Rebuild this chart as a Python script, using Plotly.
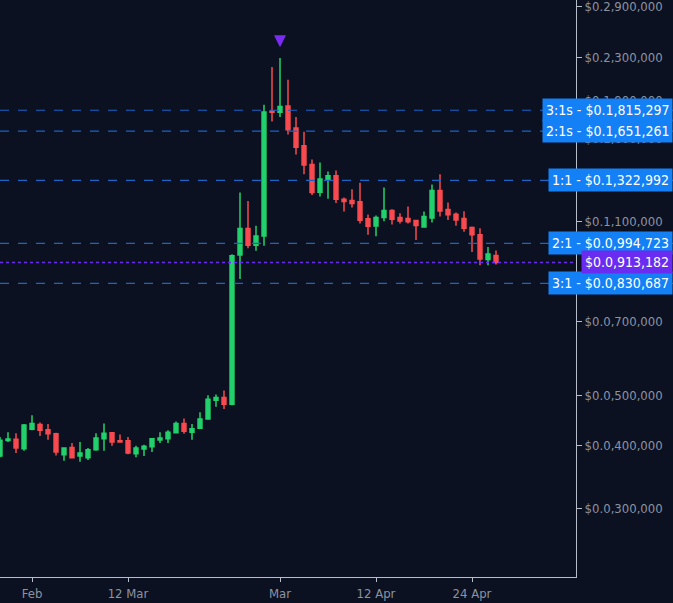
import math
import plotly.graph_objects as go

BG = "#0b1120"
UP = "#22d16b"
DOWN = "#f84a4f"
TICK_COLOR = "#8b93a3"
FONT = "Liberation Sans Narrow, DejaVu Sans Condensed, sans-serif"

# prices in units of 1e-3 (91.3 -> $0.0,913,182)
opens = [38.1, 40.86, 41.1, 39.35, 43.0, 43.9, 42.9, 42.1, 38.3, 39.6,
         38.1, 37.8, 39.2, 41.2, 42.3, 40.8, 40.8, 38.5, 39.3, 39.7,
         40.95, 41.2, 42.3, 44.1, 42.4, 43.2, 45.0, 49.0, 49.6, 48.1,
         94.4, 106.4, 98.7, 102.9, 180.9, 179.8, 185.0, 167.6, 154.6, 142.1,
         125.4, 132.9, 135.1, 121.5, 120.7, 120.1, 111.2, 107.6, 111.8, 115.4,
         111.8, 111.3, 110.3, 107.2, 111.6, 126.3, 115.9, 113.5, 111.3, 106.9,
         103.5, 92.5, 94.2]
highs = [41.5, 42.4, 42.2, 44.0, 45.8, 44.3, 44.0, 42.3, 39.6, 40.4,
         40.6, 39.5, 42.2, 44.1, 42.4, 42.0, 41.5, 39.9, 40.1, 41.3,
         42.4, 42.8, 44.5, 45.1, 44.0, 46.4, 50.1, 50.3, 51.2, 94.7,
         125.2, 120.5, 107.7, 186.1, 220.6, 229.7, 208.3, 176.1, 164.7, 145.4,
         143.4, 137.6, 138.3, 122.4, 127.0, 130.9, 113.4, 112.8, 128.0, 116.1,
         114.0, 117.5, 110.3, 114.9, 129.8, 136.0, 119.7, 114.4, 115.0, 107.4,
         106.5, 97.9, 96.4]
lows = [37.9, 40.6, 38.6, 39.0, 42.8, 41.7, 41.0, 38.2, 37.3, 37.7,
        37.1, 37.4, 39.0, 39.0, 39.9, 40.5, 38.4, 37.9, 38.1, 38.8,
        40.4, 40.4, 42.2, 42.1, 41.0, 43.1, 44.9, 47.6, 47.1, 47.9,
        84.7, 97.3, 96.2, 98.4, 172.6, 176.1, 162.6, 148.6, 135.9, 123.8,
        123.0, 121.7, 119.4, 114.9, 117.0, 108.9, 103.4, 102.8, 109.9, 108.4,
        108.9, 108.9, 101.0, 107.2, 109.4, 112.3, 110.6, 107.7, 104.9, 95.7,
        90.1, 90.1, 90.5]
closes = [40.9, 41.15, 39.5, 43.8, 44.1, 42.8, 42.1, 38.8, 39.5, 37.8,
          38.6, 39.2, 41.3, 42.2, 40.6, 40.6, 38.6, 39.5, 39.8, 41.2,
          41.3, 42.4, 44.1, 42.6, 43.1, 45.0, 49.2, 49.6, 48.1, 94.1,
          106.4, 98.7, 102.9, 180.1, 179.8, 184.7, 166.3, 153.5, 141.7, 125.2,
          133.1, 135.1, 121.5, 120.2, 119.1, 110.5, 107.5, 111.8, 115.4, 110.9,
          110.1, 109.7, 107.9, 112.3, 126.3, 115.2, 113.2, 110.6, 106.5, 103.4,
          92.7, 94.8, 91.3]

x_tick_pos = [4, 16, 35, 47, 59]
x_tick_text = ["Feb", "12 Mar", "Mar", "12 Apr", "24 Apr"]

y_tick_vals = [30, 40, 50, 70, 110, 130, 160, 190, 230, 290]
y_tick_text = ["$0.0,300,000", "$0.0,400,000", "$0.0,500,000", "$0.0,700,000",
               "$0.1,100,000", "$0.1,300,000", "$0.1,600,000", "$0.1,900,000",
               "$0.2,300,000", "$0.2,900,000"]

level_names = ["3:1s", "2:1s", "1:1", "2:1", "3:1"]
level_values = [181.5297, 165.1261, 132.2992, 99.4723, 83.0687]
level_text = ["$0.1,815,297", "$0.1,651,261", "$0.1,322,992", "$0.0,994,723", "$0.0,830,687"]

last_price = 91.3182
last_text = "$0.0,913,182"
signal_index = 35

idx = list(range(len(opens)))

fig = go.Figure()
fig.add_trace(go.Candlestick(
    x=idx, open=opens, high=highs, low=lows, close=closes,
    increasing=dict(line=dict(color=UP, width=1.5), fillcolor=UP),
    decreasing=dict(line=dict(color=DOWN, width=1.5), fillcolor=DOWN),
    whiskerwidth=0, showlegend=False,
))
fig.add_trace(go.Scatter(
    x=[signal_index], y=[highs[signal_index] * 1.05], mode="markers",
    marker=dict(symbol="arrow-down", size=12, color="#7a2cf5", line=dict(width=0)),
    showlegend=False, cliponaxis=False,
))

RIGHT = 673 / 576

for name, val, txt in zip(level_names, level_values, level_text):
    fig.add_shape(type="line", xref="paper", yref="y", x0=0, x1=RIGHT, y0=val, y1=val,
                  line=dict(color="#1d63c4", width=1.2, dash="dash"))
    fig.add_annotation(xref="paper", yref="y", x=RIGHT, y=math.log10(val), xanchor="right",
                       text=f"{name} - {txt}", showarrow=False, bgcolor="#1480f5",
                       borderpad=3, font=dict(family=FONT, size=14, color="white"))

fig.add_shape(type="line", xref="paper", yref="y", x0=0, x1=1, y0=last_price, y1=last_price,
              line=dict(color="#6a2cf0", width=1.5, dash="dot"))
fig.add_annotation(xref="paper", yref="y", x=RIGHT, y=math.log10(last_price), xanchor="right",
                   text=last_text, showarrow=False, bgcolor="#6a2cf0", borderpad=3,
                   font=dict(family=FONT, size=14, color="white"))

fig.update_layout(
    width=673, height=603,
    margin=dict(l=0, r=97, t=0, b=26),
    paper_bgcolor=BG, plot_bgcolor=BG,
    font=dict(family=FONT, size=13, color=TICK_COLOR),
    xaxis=dict(range=[0, 72], tickvals=x_tick_pos, ticktext=x_tick_text,
               showgrid=False, zeroline=False, showline=True, linecolor="#b8bec9",
               ticks="outside", ticklen=4, tickcolor="#b8bec9",
               rangeslider=dict(visible=False)),
    yaxis=dict(type="log", side="right", range=[1.3436, 2.4751],
               tickvals=y_tick_vals, ticktext=y_tick_text, ticklabeloverflow="allow",
               showgrid=False, zeroline=False, showline=True, linecolor="#b8bec9",
               ticks="outside", ticklen=5, tickcolor="#b8bec9"),
)

fig.write_html("out.html", config={"displayModeBar": False},
               post_script="document.body.style.margin='0';")
